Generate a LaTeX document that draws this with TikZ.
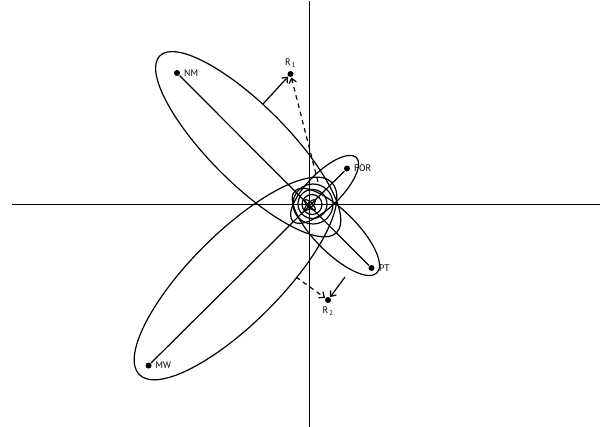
\documentclass[tikz,border=0pt]{standalone}
\usepackage{fontspec}
\setmainfont{PT Sans}
\usetikzlibrary{arrows.meta,positioning}
\tikzset{
  dot/.style={circle,fill=black,inner sep=0pt,minimum size=6pt},
  tag/.style={inner sep=1pt,font=\fontsize{9.5}{10}\selectfont},
  axis/.style={line width=1.4pt},
  move/.style={-{Straight Barb[length=4.5pt,width=7.5pt]},line width=1.2pt},
  guess/.style={move,dash pattern=on 4.5pt off 4pt}
}

\begin{document}
\begin{tikzpicture}[x=1pt,y=-1pt,line width=1.2pt]
  \useasboundingbox (0,0) rectangle (609,427);
  % axes
  \coordinate (top) at (309.5,1);
  \coordinate (bottom) at (309.5,427);
  \coordinate (left) at (12,204.5);
  \coordinate (right) at (600,204.5);
  \draw[axis] (top) -- (bottom);
  \draw[axis] (left) -- (right);

  % groups
  \node[dot] (nm) at (177,73) {};
  \node[dot] (for) at (347,168.5) {};
  \node[dot] (pt) at (371.5,268) {};
  \node[dot] (mw) at (148.5,365.5) {};
  \node[tag,right=2pt of nm] (nmlab) {NM};
  \node[tag,right=2pt of for] (forlab) {FOR};
  \node[tag,right=2.5pt of pt] (ptlab) {PT};
  \node[tag,right=2pt of mw] (mwlab) {MW};
  \draw (nm) -- (pt);
  \draw (mw) -- (for);

  % spread of each group
  \draw[rotate around={-45:(248.2,144.2)}] (248.2,144.2) ellipse [x radius=125pt,y radius=39pt];
  \draw[rotate around={45:(235.5,278.5)}] (235.5,278.5) ellipse [x radius=136pt,y radius=45pt];
  \draw[rotate around={45:(324.6,189.4)}] (324.6,189.4) ellipse [x radius=45pt,y radius=17pt];
  \draw[rotate around={-45:(335.9,231.9)}] (335.9,231.9) ellipse [x radius=58pt,y radius=21pt];

  % centre
  \draw (313,204) circle [radius=20pt];
  \draw (312.5,204) circle [radius=14.5pt];
  \draw (312,204.5) circle [radius=10pt];
  \draw[rotate around={-45:(310,205)}] (310,205) ellipse [x radius=7pt,y radius=2.5pt];
  \draw[rotate around={45:(310,205)}] (310,205) ellipse [x radius=7pt,y radius=2.5pt];

  % responses
  \node[dot] (r1) at (290.5,74) {};
  \node[dot] (r2) at (328,300) {};
  \node[tag,above=1.5pt of r1] (r1lab) {R\textsubscript{\,1}};
  \node[tag,below=1.5pt of r2] (r2lab) {R\textsubscript{\,2}};
  \coordinate (nmside) at (263,104);
  \coordinate (ptside) at (345,277);
  \coordinate (r1from) at (318,182);
  \coordinate (r2from) at (296,277);
  \draw[move] (nmside) -- (r1);
  \draw[move] (ptside) -- (r2);
  \draw[guess] (r1from) -- (r1);
  \draw[guess] (r2from) -- (r2);
\end{tikzpicture}
\end{document}
